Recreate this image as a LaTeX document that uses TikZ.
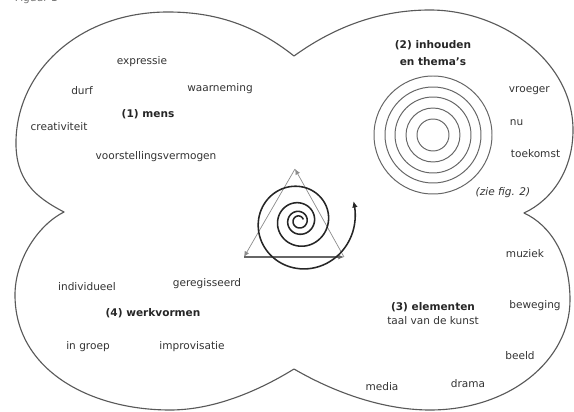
\documentclass[tikz,border=0pt]{standalone}
\usepackage{fontspec}
\setmainfont{DejaVu Sans}
\usetikzlibrary{arrows.meta}

\begin{document}
\begin{tikzpicture}[x=0.025cm, y=-0.025cm, >=Latex,
    word/.style={text=black!80, font=\fontsize{7.5}{9}\selectfont},
    head/.style={text=black!85, font=\fontsize{7.5}{12.5}\selectfont\bfseries, align=center},
    lobe/.style={draw=black!65, line width=0.8pt, line join=round},
    ring/.style={draw=black!60, line width=0.7pt},
    side/.style={draw=black!45, line width=0.5pt, -{Latex[length=4pt, width=3.5pt]}},
    spiral/.style={draw=black!85, line width=1.1pt, -{Latex[length=4.5pt, width=4pt]}}]
    \useasboundingbox (0,0) rectangle (574,412);

    % outline of the four fields
    \draw[lobe] (294,56) .. controls (255,25) and (215,12) .. (168,12)
        .. controls (80,12) and (18,70) .. (16,140)
        .. controls (15,180) and (35,197) .. (64,212)
        .. controls (38,225) and (15,260) .. (15,295)
        .. controls (15,370) and (90,410) .. (170,410)
        .. controls (215,410) and (260,390) .. (294,369)
        .. controls (330,390) and (380,410) .. (430,410)
        .. controls (510,410) and (570,360) .. (570,300)
        .. controls (570,255) and (550,225) .. (524,213)
        .. controls (552,200) and (573,170) .. (573,130)
        .. controls (573,60) and (500,10) .. (430,10)
        .. controls (375,10) and (330,30) .. (294,56) -- cycle;

    \node[word, text=black!55, anchor=base west] (fig) at (10,2) {Figuur 1};

    % (1) mens
    \node[word] (expr) at (142,62) {expressie};
    \node[word] (durf) at (82,91) {durf};
    \node[word] (waar) at (220,89) {waarneming};
    \node[head] (mens) at (148,114) {(1) mens};
    \node[word] (crea) at (59,127) {creativiteit};
    \node[word] (voor) at (156,157) {voorstellingsvermogen};

    % (2) inhouden en thema's
    \node[head] (thema) at (433,53) {(2) inhouden\\en thema’s};
    \foreach \r in {16,27,38,48,59}
        \draw[ring] (433,135) circle[radius=\r];
    \node[word, anchor=west] (vroeg) at (504,91) {vroeger};
    \node[word, anchor=west] (nu) at (505,123) {nu};
    \node[word, anchor=west] (toek) at (506,154) {toekomst};
    \node[word, font=\fontsize{7.5}{9}\selectfont\itshape] (zie) at (503,193) {(zie fig. 2)};

    % (3) elementen
    \node[word] (muz) at (525,254) {muziek};
    \node[head] (elem) at (433,307) {(3) elementen};
    \node[word] (taal) at (433,321) {taal van de kunst};
    \node[word] (bew) at (535,306) {beweging};
    \node[word] (beeld) at (520,356) {beeld};
    \node[word] (media) at (382,387) {media};
    \node[word] (drama) at (468,384) {drama};

    % (4) werkvormen
    \node[word] (indiv) at (87,287) {individueel};
    \node[word] (regie) at (207,284) {geregisseerd};
    \node[head] (werk) at (153,313) {(4) werkvormen};
    \node[word] (groep) at (88,347) {in groep};
    \node[word] (impro) at (192,347) {improvisatie};

    % triangle and spiral in the middle
    \coordinate (top) at (295,169);
    \coordinate (bl) at (244,257);
    \coordinate (br) at (344,257);
    \draw[side] (top) -- (bl);
    \draw[side, draw=black!60, line width=0.8pt] (bl) -- (br);
    \draw[side] (br) -- (top);
    \draw[spiral] plot[domain=-340:1100, samples=320, smooth, variable=\t]
        ({299+58*exp(0.6419*(\t-1100)/360)*cos(\t)}, {221-58*exp(0.6419*(\t-1100)/360)*sin(\t)});
\end{tikzpicture}
\end{document}
